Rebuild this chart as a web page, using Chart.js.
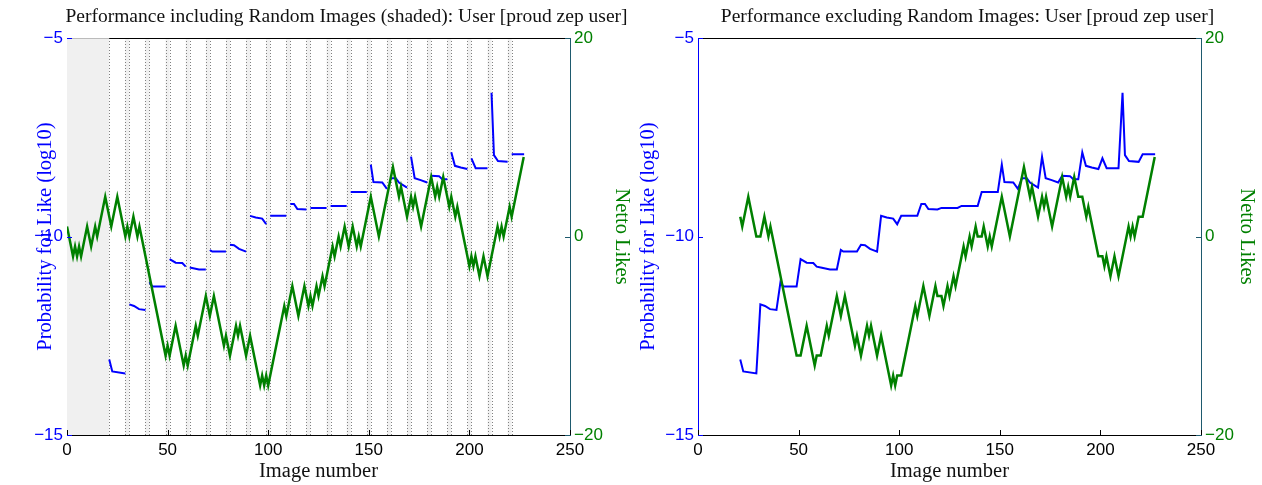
<!DOCTYPE html>
<html>
<head>
<meta charset="utf-8">
<script src="https://cdn.jsdelivr.net/npm/chart.js@4.4.0/dist/chart.umd.min.js"></script>
<style>
  html, body { margin: 0; padding: 0; background: #fff; }
  #wrap { position: relative; width: 1262px; height: 485px; }
  canvas { position: absolute; top: 0; }
</style>
</head>
<body>
<div id="wrap">
  <canvas id="withRandom" width="631" height="485" style="left:0"></canvas>
  <canvas id="withoutRandom" width="631" height="485" style="left:631px"></canvas>
</div>
<script>
// Random images shown to the user: 1..20 as warm-up, then every 10th image
const warmupLast = 20;
const randomImages = [30, 40, 50, 60, 70, 80, 90, 100, 110, 120, 130, 140, 150, 160, 170, 180, 190, 200, 210, 220];

// Probability for a like (log10), turning points of the step curve
const probImages = [21, 22.5, 29, 31, 33.3, 35.8, 39, 41, 42.4, 49, 51, 54, 57.3, 59, 61, 65.6, 69,
  71, 72.2, 79, 81, 83, 85.5, 89, 91, 93.8, 97, 99, 101, 109, 111, 112.8, 114.5, 119, 121, 129,
  131, 139, 141, 149, 151, 152.3, 156.7, 159, 161, 163.4, 165, 169, 171, 172.8, 175.8, 179,
  181, 184.9, 186.5, 189, 191, 192.8, 195.7, 199, 201, 203.1, 209, 211, 212.2, 214.2, 219, 221, 227.2];
const probValues = [-13.1, -13.4, -13.45, -11.71, -11.75, -11.83, -11.85, -11.15, -11.26, -11.26,
  -10.57, -10.66, -10.67, -10.76, -10.78, -10.83, -10.83, -10.34, -10.38, -10.38, -10.21, -10.22,
  -10.31, -10.38, -9.48, -9.52, -9.55, -9.69, -9.48, -9.48, -9.18, -9.18, -9.31, -9.32, -9.28,
  -9.28, -9.23, -9.23, -8.88, -8.88, -8.19, -8.63, -8.64, -8.8, -8.53, -8.53, -8.64, -8.77,
  -7.99, -8.53, -8.58, -8.64, -8.47, -8.48, -8.56, -8.56, -7.88, -8.22, -8.26, -8.3, -8.03,
  -8.28, -8.28, -6.38, -7.95, -8.1, -8.12, -7.93, -7.93];

// Netto likes over all images (turning points of the ±1 walk)
const nettoAllImages = [0, 3, 4, 5, 6, 7, 10, 12, 14, 15, 19, 22, 25, 29, 30, 31, 33, 35, 36, 49, 50,
  51, 54, 58, 59, 60, 64, 65, 69, 71, 73, 78, 79, 81, 84, 85, 86, 89, 91, 96, 97, 98, 99, 100,
  108, 109, 112, 115, 118, 120, 121, 122, 124, 125, 127, 128, 132, 133, 135, 136, 138, 140, 142,
  144, 145, 146, 151, 155, 162, 165, 166, 169, 171, 172, 173, 176, 181, 183, 184, 185, 187, 190,
  191, 193, 194, 200, 201, 202, 203, 205, 207, 209, 214, 215, 216, 217, 220, 221, 227];
const nettoAll = [1, -2, -1, -2, -1, -2, 1, -1, 1, 0, 4, 1, 4, 0, 1, 0, 2, 0, 1, -12, -11,
  -12, -9, -13, -12, -13, -9, -10, -6, -8, -6, -11, -10, -12, -9, -10, -9, -12, -10, -15, -14, -15, -14, -15,
  -7, -8, -5, -8, -5, -7, -6, -7, -5, -6, -4, -5, -1, -2, 0, -1, 1, -1, 1,
  -1, 0, -1, 4, 0, 7, 4, 5, 2, 4, 3, 4, 1, 6, 4, 5, 4, 6, 3,
  4, 2, 3, -3, -2, -3, -2, -4, -2, -4, 1, 0, 1, 0, 3, 2, 8];

// Netto likes counting only the regular images
const nettoRealImages = [21, 22, 25, 29, 31, 33, 35, 36, 49, 51, 54, 58, 59, 61, 64, 65, 69, 71, 73,
  78, 79, 81, 84, 85, 86, 89, 91, 96, 97, 98, 99, 101, 108, 109, 112, 115, 118, 119, 121, 122,
  124, 125, 127, 128, 132, 133, 135, 136, 138, 139, 141, 142, 144, 145, 146, 151, 155, 162, 165,
  166, 169, 171, 172, 173, 176, 181, 183, 184, 185, 187, 189, 191, 193, 194, 199, 201, 202, 203,
  205, 207, 209, 214, 215, 216, 217, 219, 221, 227];
const nettoReal = [2, 1, 4, 0, 0, 2, 0, 1, -12, -12, -9, -13, -12, -12, -9, -10, -6, -8, -6,
  -11, -10, -12, -9, -10, -9, -12, -10, -15, -14, -15, -14, -14, -7, -8, -5, -8, -5, -6, -6, -7,
  -5, -6, -4, -5, -1, -2, 0, -1, 1, 0, 0, 1, -1, 0, -1, 4, 0, 7, 4,
  5, 2, 4, 3, 4, 1, 6, 4, 5, 4, 6, 4, 4, 2, 3, -2, -2, -3, -2,
  -4, -2, -4, 1, 0, 1, 0, 2, 2, 8];

const xTicks = [0, 50, 100, 150, 200, 250];
const probTicks = [-15, -10, -5];
const nettoTicks = [-20, 0, 20];

const BLUE = '#0000ff';
const GREEN = '#008000';
const TEAL = '#1e5a6e';
const SERIF = '"Liberation Serif", "DejaVu Serif", serif';
const SANS = '"Liberation Sans", Arial, sans-serif';

const toPoints = (xs, ys) => xs.map((x, i) => ({ x: x, y: ys[i] }));

// break the probability curve wherever a random image sits in between
function withGaps(xs, ys, gaps) {
  const pts = [];
  xs.forEach((x, i) => {
    if (i > 0) gaps.filter(g => g > xs[i - 1] && g < x).forEach(g => pts.push({ x: g, y: null }));
    pts.push({ x: x, y: ys[i] });
  });
  return pts;
}

const minus = v => String(v).replace('-', '\u2212');

// grey bands behind the random images, with dotted edges
const shading = {
  id: 'shading',
  beforeDatasetsDraw(chart) {
    const { ctx, chartArea: a, scales: { x } } = chart;
    const spans = [[0, warmupLast + 1]].concat(randomImages.map(r => [r - 1, r + 1]));
    ctx.save();
    ctx.fillStyle = '#f0f0f0';
    spans.forEach(([s, e]) => {
      const x0 = x.getPixelForValue(s), x1 = x.getPixelForValue(e);
      ctx.fillRect(x0, a.top, x1 - x0, a.bottom - a.top);
    });
    ctx.strokeStyle = '#808080';
    ctx.lineWidth = 1;
    ctx.setLineDash([1, 2]);
    spans.forEach(([s, e]) => {
      [s, e].forEach(v => {
        if (v <= 0) return;
        const px = Math.round(x.getPixelForValue(v)) + 0.5;
        ctx.beginPath();
        ctx.moveTo(px, a.top);
        ctx.lineTo(px, a.bottom);
        ctx.stroke();
      });
    });
    ctx.restore();
  }
};

// title, top box line and small inward tick marks
const frame = {
  id: 'frame',
  afterDatasetsDraw(chart, args, opts) {
    const { ctx, chartArea: a, scales } = chart;
    ctx.save();
    ctx.lineWidth = 1;
    // the warm-up band greys out the top edge above it
    const bandEnd = opts.shaded ? scales.x.getPixelForValue(warmupLast + 1) : a.left;
    ctx.strokeStyle = '#bbb';
    ctx.beginPath();
    ctx.moveTo(a.left, a.top + 0.5);
    ctx.lineTo(bandEnd, a.top + 0.5);
    ctx.stroke();
    ctx.strokeStyle = '#000';
    ctx.beginPath();
    ctx.moveTo(bandEnd, a.top + 0.5);
    ctx.lineTo(a.right, a.top + 0.5);
    ctx.stroke();
    xTicks.forEach(v => {
      const px = Math.round(scales.x.getPixelForValue(v)) + 0.5;
      ctx.beginPath();
      ctx.moveTo(px, a.bottom);
      ctx.lineTo(px, a.bottom - 5);
      ctx.stroke();
    });
    ctx.strokeStyle = BLUE;
    probTicks.forEach(v => {
      const py = Math.round(scales.y.getPixelForValue(v)) + 0.5;
      ctx.beginPath();
      ctx.moveTo(a.left, py);
      ctx.lineTo(a.left + 5, py);
      ctx.stroke();
    });
    ctx.strokeStyle = TEAL;
    nettoTicks.forEach(v => {
      const py = Math.round(scales.y2.getPixelForValue(v)) + 0.5;
      ctx.beginPath();
      ctx.moveTo(a.right, py);
      ctx.lineTo(a.right - 5, py);
      ctx.stroke();
    });
    // plot title, sitting a little right of the axes centre
    ctx.fillStyle = '#111';
    ctx.font = '19.5px ' + SERIF;
    ctx.textAlign = 'center';
    ctx.textBaseline = 'middle';
    ctx.fillText(opts.text, (a.left + a.right) / 2 + opts.shift, 17);
    ctx.restore();
  }
};

function makeChart(id, cfg) {
  return new Chart(document.getElementById(id), {
    type: 'line',
    data: {
      datasets: [
        { data: cfg.prob, yAxisID: 'y', borderColor: BLUE, borderWidth: 2, pointRadius: 0, tension: 0, spanGaps: false, order: 2 },
        { data: cfg.netto, yAxisID: 'y2', borderColor: GREEN, borderWidth: 2.5, pointRadius: 0, tension: 0, order: 1 }
      ]
    },
    options: {
      responsive: false,
      animation: false,
      devicePixelRatio: 1,
      layout: { padding: { top: 38, left: 0, right: 0, bottom: 0 } },
      plugins: {
        legend: { display: false },
        tooltip: { enabled: false },
        title: { display: false },
        frame: { text: cfg.title, shaded: cfg.shaded, shift: cfg.titleShift }
      },
      scales: {
        x: {
          type: 'linear', min: 0, max: 250,
          ticks: { stepSize: 50, color: '#000', font: { family: SANS, size: 17 }, padding: 5, maxRotation: 0 },
          grid: { display: false, drawTicks: false },
          border: { color: '#000' },
          title: { display: true, text: 'Image number', color: '#111', font: { family: SERIF, size: 20.5 }, padding: { top: 0, bottom: 1 } },
          afterFit: s => { s.height = 50; }
        },
        y: {
          position: 'left', min: -15, max: -5,
          ticks: { stepSize: 5, color: BLUE, font: { family: SANS, size: 17 }, padding: 4, callback: minus },
          grid: { display: false, drawTicks: false },
          border: { color: BLUE },
          title: { display: true, text: 'Probability for Like (log10)', color: BLUE, font: { family: SERIF, size: 20.5 }, padding: { top: cfg.leftTitlePad, bottom: 0 } },
          afterFit: s => { s.width = 67; }
        },
        y2: {
          position: 'right', min: -20, max: 20,
          ticks: { stepSize: 20, color: GREEN, font: { family: SANS, size: 17 }, padding: 4, callback: minus },
          grid: { display: false, drawTicks: false },
          border: { color: TEAL },
          title: { display: true, text: 'Netto Likes', color: GREEN, font: { family: SERIF, size: 20.5 }, padding: { top: cfg.rightTitlePad, bottom: 0 } },
          afterFit: s => { s.width = 61; }
        }
      }
    },
    plugins: cfg.shaded ? [shading, frame] : [frame]
  });
}

makeChart('withRandom', {
  title: 'Performance including Random Images (shaded): User [proud zep user]',
  prob: withGaps(probImages, probValues, randomImages),
  netto: toPoints(nettoAllImages, nettoAll),
  leftTitlePad: 33,
  rightTitlePad: -3,
  titleShift: 28,
  shaded: true
});

makeChart('withoutRandom', {
  title: 'Performance excluding Random Images: User [proud zep user]',
  prob: toPoints(probImages, probValues),
  netto: toPoints(nettoRealImages, nettoReal),
  leftTitlePad: 5,
  rightTitlePad: 3,
  titleShift: 18,
  shaded: false
});
</script>
</body>
</html>
